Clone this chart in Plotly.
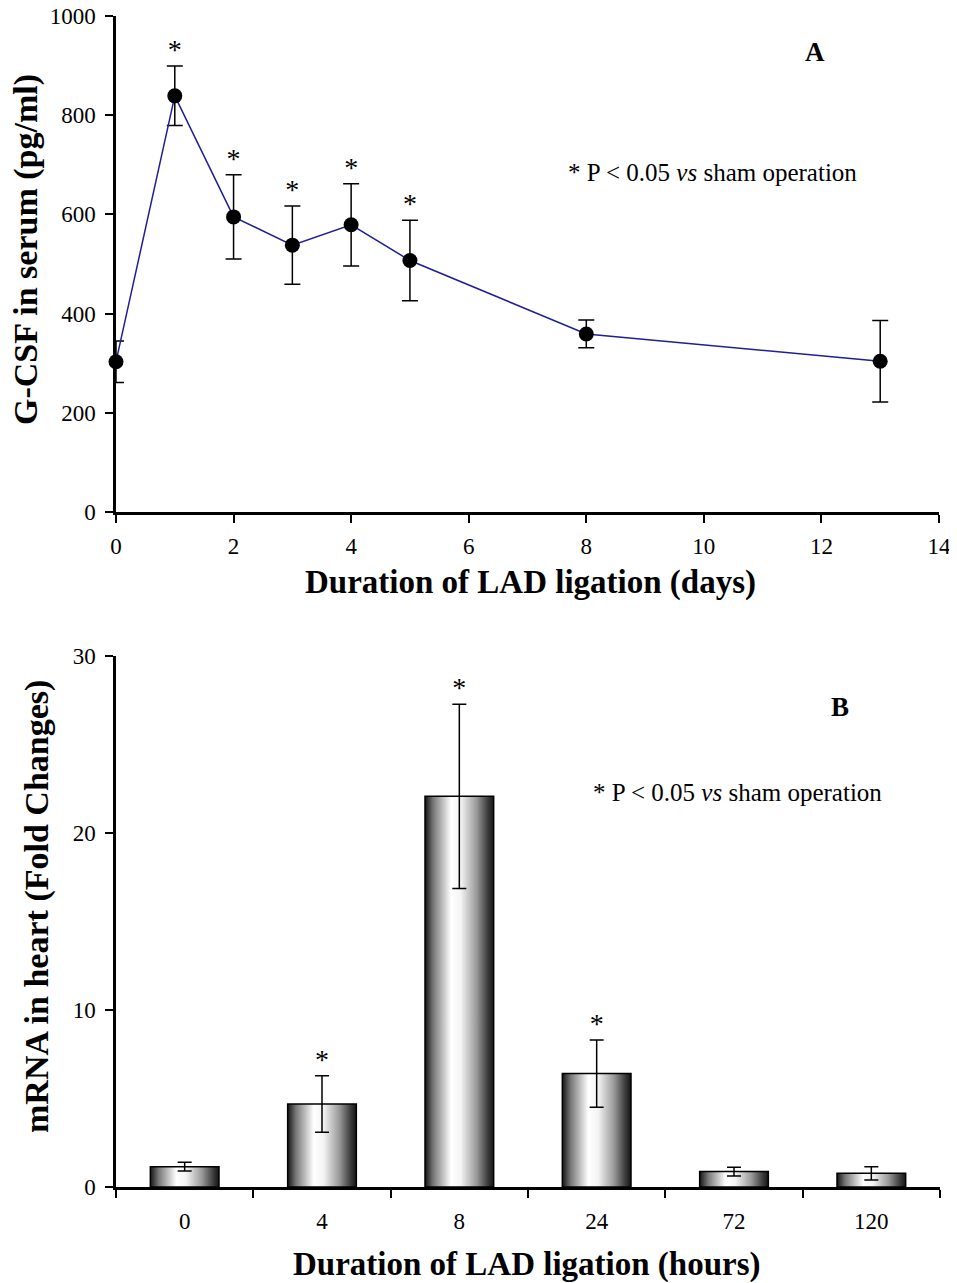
import plotly.graph_objects as go

# ---------------- data ----------------
days = [0, 1, 2, 3, 4, 5, 8, 13]
gcsf = [303, 839, 595, 538, 579, 507, 359, 304]
gcsf_err = [42, 60, 85, 79, 83, 81, 28, 82]
gcsf_sig = [False, True, True, True, True, True, False, False]

hours = ["0", "4", "8", "24", "72", "120"]
mrna = [1.15, 4.69, 22.07, 6.41, 0.87, 0.77]
mrna_err = [0.25, 1.6, 5.2, 1.9, 0.25, 0.38]
mrna_sig = [False, True, True, True, False, False]

yticks_a = [0, 200, 400, 600, 800, 1000]
xticks_a = [0, 2, 4, 6, 8, 10, 12, 14]
yticks_b = [0, 10, 20, 30]

# page places the figure 8px from the top-left corner (body margin)
OFF = 8
PW, PH = 957, 1283
W, H = PW - OFF, PH - OFF
def px(x):
    return (x - OFF) / W
def py(y):
    return 1 - (y - OFF) / H

SERIF = "Liberation Serif"
BAR_W = 0.5

fig = go.Figure()

# ---------------- Panel A ----------------
fig.add_trace(go.Scatter(
    x=days, y=gcsf, mode="lines+markers",
    line=dict(color="#1f1f96", width=1.5),
    marker=dict(color="black", size=15),
    error_y=dict(type="data", array=gcsf_err, color="black", thickness=1.5, width=8),
    cliponaxis=False, xaxis="x", yaxis="y", showlegend=False,
))
sx = [d for d, s in zip(days, gcsf_sig) if s]
sy = [v + e for v, e, s in zip(gcsf, gcsf_err, gcsf_sig) if s]
fig.add_trace(go.Scatter(
    x=sx, y=sy, mode="text", text=["*"] * len(sx), textposition="top center",
    textfont=dict(family=SERIF, size=28, color="black"),
    cliponaxis=False, xaxis="x", yaxis="y", showlegend=False,
))

# ---------------- Panel B ----------------
grad = [[0.0, "#151515"], [0.12, "#777777"], [0.38, "#ffffff"], [0.52, "#f4f4f4"],
        [0.75, "#9a9a9a"], [0.92, "#3a3a3a"], [1.0, "#151515"]]
for i, v in enumerate(mrna):
    xl, xr = i - BAR_W / 2, i + BAR_W / 2
    fig.add_trace(go.Scatter(
        x=[xl, xl, xr, xr, xl], y=[0, v, v, 0, 0], mode="lines", fill="toself",
        fillgradient=dict(type="horizontal", colorscale=grad),
        line=dict(color="black", width=1.5),
        xaxis="x2", yaxis="y2", showlegend=False, hoverinfo="skip",
    ))
idx = list(range(len(hours)))
fig.add_trace(go.Scatter(
    x=idx, y=mrna, mode="markers", marker=dict(size=1, opacity=0),
    error_y=dict(type="data", array=mrna_err, color="black", thickness=1.5, width=7),
    xaxis="x2", yaxis="y2", showlegend=False,
))
bx = [i for i, s in zip(idx, mrna_sig) if s]
by = [v + e for v, e, s in zip(mrna, mrna_err, mrna_sig) if s]
fig.add_trace(go.Scatter(
    x=bx, y=by, mode="text", text=["*"] * len(bx), textposition="top center",
    textfont=dict(family=SERIF, size=28, color="black"),
    cliponaxis=False, xaxis="x2", yaxis="y2", showlegend=False,
))

TICKFONT = dict(family=SERIF, size=23, color="black")
axis_common = dict(
    showline=True, linecolor="black", linewidth=2.5, showgrid=False, zeroline=False,
    ticks="outside", ticklen=8, tickwidth=2, tickcolor="black",
    tickfont=TICKFONT, automargin=False, ticklabeloverflow="allow",
)

fig.update_layout(
    width=W, height=H, margin=dict(l=0, r=0, t=0, b=0, pad=0, autoexpand=False),
    paper_bgcolor="white", plot_bgcolor="white",
    xaxis=dict(domain=[px(116), px(939)], anchor="y", range=[0, 14],
               tickvals=xticks_a, ticklabelstandoff=4, **axis_common),
    yaxis=dict(domain=[py(512), py(16)], anchor="x", range=[0, 1000],
               tickvals=yticks_a, ticklabelstandoff=5, **axis_common),
    xaxis2=dict(domain=[px(116), px(940)], anchor="y2", range=[-0.5, 5.5],
                tickvals=idx, ticktext=hours, ticklabelstandoff=12,
                showline=True, linecolor="black", linewidth=2.5, showgrid=False,
                zeroline=False, ticks="", automargin=False, tickfont=TICKFONT,
                ticklabeloverflow="allow",
                minor=dict(tickvals=[i - 0.5 for i in range(len(hours) + 1)],
                           ticks="outside", ticklen=8, tickwidth=2, tickcolor="black")),
    yaxis2=dict(domain=[py(1187), py(656)], anchor="x2", range=[0, 30],
                tickvals=yticks_b, ticklabelstandoff=5, **axis_common),
)

ann = []
def add_ann(text, x, y, size, angle=0):
    ann.append(dict(text=text, x=px(x), y=py(y), xref="paper", yref="paper",
                    showarrow=False, textangle=angle, xanchor="center", yanchor="middle",
                    font=dict(family=SERIF, size=size, color="black")))

add_ann("<b>G-CSF in serum (pg/ml)</b>", 26, 250, 34, angle=-90)
add_ann("<b>Duration of LAD ligation (days)</b>", 530, 583, 33)
add_ann("<b>A</b>", 815, 52, 27)
add_ann("* P &lt; 0.05 <i>vs</i> sham operation", 712, 173, 25)

add_ann("<b>mRNA in heart (Fold Changes)</b>", 37, 907, 34, angle=-90)
add_ann("<b>Duration of LAD ligation (hours)</b>", 527, 1264, 33)
add_ann("<b>B</b>", 840, 707, 27)
add_ann("* P &lt; 0.05 <i>vs</i> sham operation", 737, 792, 25)

fig.update_layout(annotations=ann)

fig.write_html("out.html")
